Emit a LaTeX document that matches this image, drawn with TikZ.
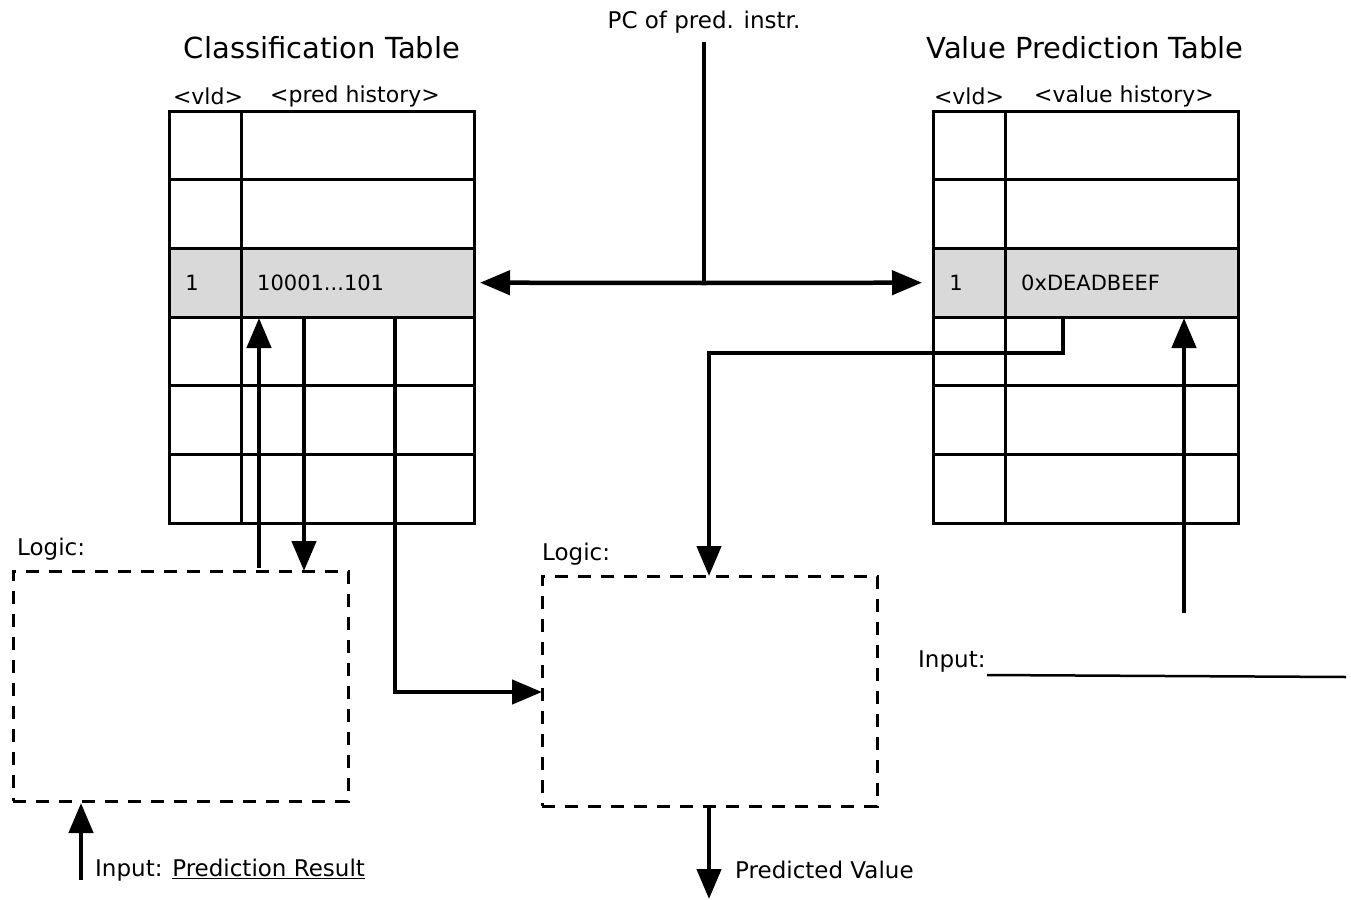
\documentclass[tikz,border=0pt]{standalone}
\usepackage{fontspec}
\setmainfont{DejaVu Sans}
\usetikzlibrary{arrows.meta}
\begin{document}
\begin{tikzpicture}[x=1pt,y=-1pt,
  cell/.style={draw, line width=3pt, minimum width=305pt, minimum height=68.67pt, anchor=north west, inner sep=0pt, outer sep=0pt},
  hicell/.style={cell, fill=gray!30},
  logicbox/.style={draw, line width=3pt, dash pattern=on 13pt off 10pt, anchor=north west, inner sep=0pt, outer sep=0pt},
  arr/.style={line width=4.5pt, -{Triangle[length=30pt,width=24pt]}},
  wire/.style={line width=4.5pt},
  title/.style={font=\fontsize{29}{34}\selectfont},
  hdr/.style={font=\fontsize{22}{26}\selectfont, inner sep=0pt},
  cellt/.style={font=\fontsize{21}{25}\selectfont, inner sep=0pt},
  lbl/.style={font=\fontsize{23}{27}\selectfont, inner sep=0pt},
]
\useasboundingbox (0,0) rectangle (1351,899);

% Titles and headers
\node[title] (ctitle) at (322,48) {Classification Table};
\node[title] (vtitle) at (1085,48) {Value Prediction Table};
\node[hdr] (cvld) at (208,96) {<vld>};
\node[hdr] (chist) at (355,96) {<pred history>};
\node[hdr] (vvld) at (969,96) {<vld>};
\node[hdr] (vhist) at (1124,96) {<value history>};

% Tables
\foreach \k in {1,...,6} {
  \pgfmathsetmacro{\yy}{111+68.67*(\k-1)}
  \ifnum\k=3
    \node[hicell] (ct\k) at (169,\yy) {};
    \node[hicell] (vt\k) at (933,\yy) {};
  \else
    \node[cell] (ct\k) at (169,\yy) {};
    \node[cell] (vt\k) at (933,\yy) {};
  \fi
}
\draw[line width=3pt] (241,111) -- (241,523);
\draw[line width=3pt] (1005,111) -- (1005,523);

\node[cellt] (cv) at (192,283) {1};
\node[cellt, anchor=west] (cval) at (257,283) {10001...101};
\node[cellt] (vv) at (956,283) {1};
\node[cellt, anchor=west] (vval) at (1021,283) {0xDEADBEEF};

% PC
\node[lbl] (pc) at (704,22) {PC of pred. instr.};
\coordinate (pctop) at (704,42);
\coordinate (pcj) at (704,283);
\draw[wire] (pctop) -- (pcj);
\draw[arr] (pcj) -- ([xshift=6pt]ct3.east);
\draw[arr] (pcj) -- ([xshift=-11pt]vt3.west);

% Logic boxes
\node[logicbox, minimum width=335pt, minimum height=230pt] (log1) at (13,571) {};
\node[lbl, anchor=west] (log1l) at (17,549) {Logic:};
\node[logicbox, minimum width=335pt, minimum height=230pt] (log2) at (542,576) {};
\node[lbl, anchor=west] (log2l) at (542,554) {Logic:};

% Left connections
\coordinate (upstart) at (259,568);
\coordinate (uptip) at (259,318);
\draw[arr] (upstart) -- (uptip);
\coordinate (dnstart) at (304,318);
\coordinate (dntip) at (304,571);
\draw[arr] (dnstart) -- (dntip);
\coordinate (hstart) at (395,318);
\coordinate (hbend) at (395,692);
\draw[arr] (hstart) -- (hbend) -- (log2.west |- hbend);

% Input to logic 1
\coordinate (in1) at (81,880);
\draw[arr] (in1) -- (81,803);
\node[lbl, anchor=west] (in1l) at (95,870) {Input: \underline{Prediction Result}};

% Value table to logic 2
\coordinate (vstart) at (1063,318);
\draw[arr] (vstart) -- (1063,353) -- (709,353) -- (709,576);

% Output
\coordinate (outtip) at (709,899);
\draw[arr] (709,806) -- (outtip);
\node[lbl, anchor=west] (outl) at (735,870) {Predicted Value};

% Right input
\coordinate (rin) at (1184,613);
\draw[arr] (rin) -- (1184,318);
\node[lbl, anchor=west] (rinl) at (918,662) {Input:};
\coordinate (rlinestart) at (987,675);
\coordinate (rlineend) at (1346,677);
\draw[line width=2.5pt] (rlinestart) -- (rlineend);
\end{tikzpicture}
\end{document}
